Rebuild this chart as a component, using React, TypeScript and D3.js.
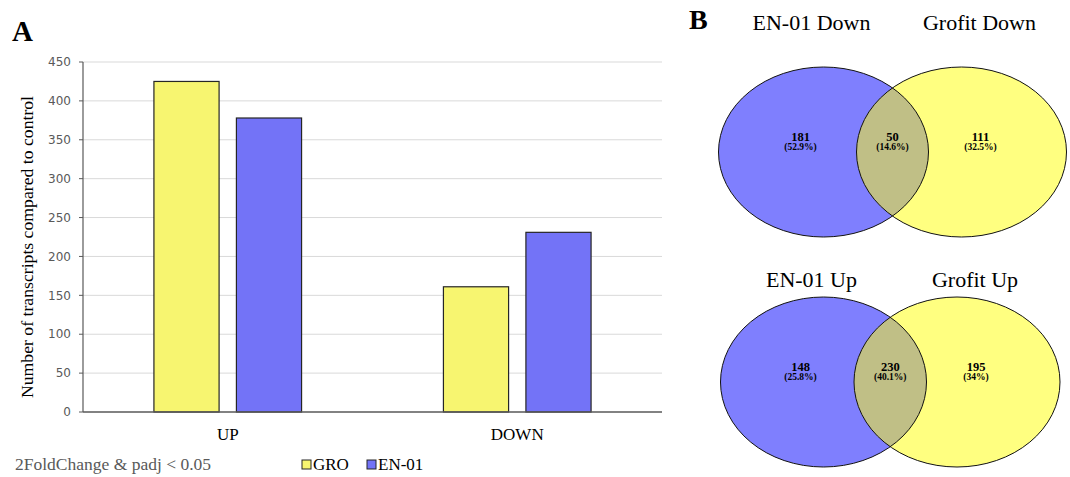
import * as d3 from 'd3';

const categories = ['UP', 'DOWN'];
const seriesNames = ['GRO', 'EN-01'];
const groValues = [425, 161];
const en01Values = [378, 231];
const yTicks = [0, 50, 100, 150, 200, 250, 300, 350, 400, 450];

const vennTitles = [
  ['EN-01 Down', 'Grofit Down'],
  ['EN-01 Up', 'Grofit Up'],
];
const vennCounts = [
  [181, 50, 111],
  [148, 230, 195],
];
const vennPercents = [
  ['(52.9%)', '(14.6%)', '(32.5%)'],
  ['(25.8%)', '(40.1%)', '(34%)'],
];

const W = 1070;
const H = 477;
const barColors = ['#f7f570', '#7373f7'];
const serif = '"Liberation Serif", "Times New Roman", serif';
const sans = '"DejaVu Sans", Verdana, sans-serif';

const App = () => {
  const plot = { left: 83, right: 662, top: 62, bottom: 412 };
  const y = d3.scaleLinear().domain([0, 450]).range([plot.bottom, plot.top]);
  const x0 = d3.scaleBand().domain(categories).range([plot.left, plot.right]).paddingInner(0.49).paddingOuter(0.245);
  const x1 = d3.scaleBand().domain(seriesNames).range([0, x0.bandwidth()]).paddingInner(0.21);
  const series = [groValues, en01Values];

  // venn layout
  const venns = [
    { cy: 152, lcx: 823.5, rcx: 961.5, rx: 105, ry: 85, titleY: 30 },
    { cy: 382, lcx: 823.5, rcx: 957, rx: 103, ry: 85, titleY: 287 },
  ];

  return (
    <svg width={W} height={H} style={{ display: 'block', position: 'absolute', left: 0, top: 0, background: '#fff' }}>
      <text x={12} y={41} fontFamily={serif} fontWeight="bold" fontSize={29}>A</text>
      <text x={689} y={29} fontFamily={serif} fontWeight="bold" fontSize={28}>B</text>

      {/* grid */}
      {yTicks.map((t) => (
        <g key={t}>
          {t > 0 && <line x1={plot.left} x2={plot.right} y1={y(t)} y2={y(t)} stroke="#d9d9d9" strokeWidth={1} />}
          <line x1={plot.left - 4} x2={plot.left} y1={y(t)} y2={y(t)} stroke="#595959" />
          <text x={plot.left - 12} y={y(t)} dy="0.35em" textAnchor="end" fontFamily={sans} fontSize={12} fill="#595959">{t}</text>
        </g>
      ))}

      {/* bars */}
      {categories.map((c, ci) => (
        <g key={c} transform={`translate(${x0(c)},0)`}>
          {seriesNames.map((s, si) => (
            <rect key={s} x={x1(s)} y={y(series[si][ci])} width={x1.bandwidth()} height={y(0) - y(series[si][ci])}
              fill={barColors[si]} stroke="#262626" strokeWidth={1.2} />
          ))}
          <text x={x0.bandwidth() / 2} y={440} textAnchor="middle" fontFamily={serif} fontSize={17}>{c}</text>
        </g>
      ))}

      <line x1={plot.left} x2={plot.left} y1={plot.top} y2={plot.bottom} stroke="#595959" strokeWidth={1.2} />
      <line x1={plot.left} x2={plot.right} y1={plot.bottom} y2={plot.bottom} stroke="#595959" strokeWidth={1.5} />

      <text transform={`translate(33,${(plot.top + plot.bottom) / 2 + 10}) rotate(-90)`} textAnchor="middle" fontFamily={serif} fontSize={17.7}>
        Number of transcripts compared to control
      </text>

      {/* legend */}
      <text x={15} y={470} fontFamily={serif} fontSize={17.5} fill="#595959">2FoldChange &amp; padj &lt; 0.05</text>
      {seriesNames.map((s, i) => (
        <g key={s} transform={`translate(${302 + i * 65},0)`}>
          <rect x={0} y={460} width={9} height={9} fill={barColors[i]} stroke="#262626" strokeWidth={1} />
          <text x={11} y={470} fontFamily={serif} fontSize={17}>{s}</text>
        </g>
      ))}

      {/* venns */}
      {venns.map((v, vi) => {
        const midX = (v.lcx + v.rcx) / 2;
        const lblX = [v.lcx - 23, midX, v.rcx + 19];
        return (
          <g key={vi}>
            <defs>
              <clipPath id={`clip${vi}`}>
                <ellipse cx={v.rcx} cy={v.cy} rx={v.rx} ry={v.ry} />
              </clipPath>
            </defs>
            <ellipse cx={v.lcx} cy={v.cy} rx={v.rx} ry={v.ry} fill="#7f7ffe" />
            <ellipse cx={v.rcx} cy={v.cy} rx={v.rx} ry={v.ry} fill="#ffff80" />
            <ellipse cx={v.lcx} cy={v.cy} rx={v.rx} ry={v.ry} fill="#c0bf86" clipPath={`url(#clip${vi})`} />
            <ellipse cx={v.lcx} cy={v.cy} rx={v.rx} ry={v.ry} fill="none" stroke="#111" strokeWidth={1} />
            <ellipse cx={v.rcx} cy={v.cy} rx={v.rx} ry={v.ry} fill="none" stroke="#111" strokeWidth={1} />
            <text x={v.lcx - 12} y={v.titleY} textAnchor="middle" fontFamily={serif} fontSize={22}>{vennTitles[vi][0]}</text>
            <text x={v.rcx + 18} y={v.titleY} textAnchor="middle" fontFamily={serif} fontSize={22}>{vennTitles[vi][1]}</text>
            {vennCounts[vi].map((n, k) => (
              <g key={k}>
                <text x={lblX[k]} y={v.cy - 11} textAnchor="middle" fontFamily={serif} fontWeight="bold" fontSize={12.5}>{n}</text>
                <text x={lblX[k]} y={v.cy - 2} textAnchor="middle" fontFamily={serif} fontWeight="bold" fontSize={9.5}>{vennPercents[vi][k]}</text>
              </g>
            ))}
          </g>
        );
      })}
    </svg>
  );
};

export default App;
